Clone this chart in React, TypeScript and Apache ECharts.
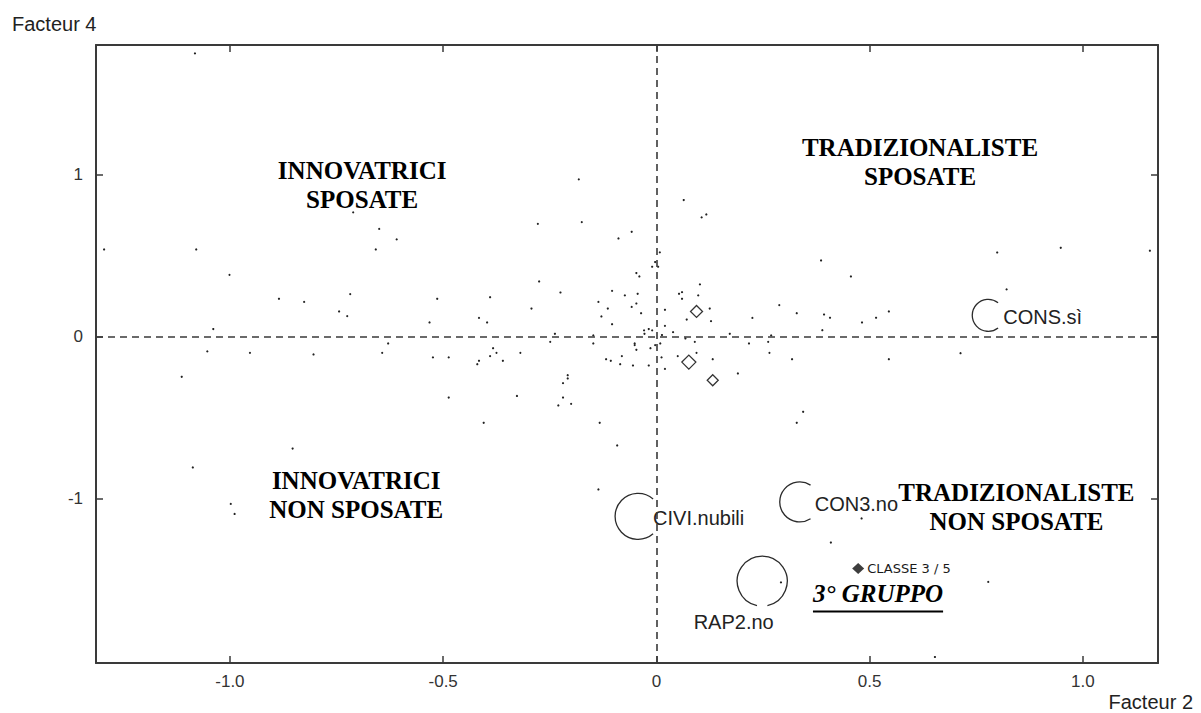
import React, { useEffect, useRef } from "react";
import * as echarts from "echarts";

// Axis scales (Facteur 2 horizontally, Facteur 4 vertically)
const xRange = [-1.314, 1.176];
const yRange = [-2.015, 1.803];
const xTicks = [-1, -0.5, 0, 0.5, 1];
const xTickLabels = ["-1.0", "-0.5", "0", "0.5", "1.0"];
const yTicks = [-1, 0, 1];
const yTickLabels = ["-1", "0", "1"];

// Individuals (small points)
const pointX = [
  -1.082, -0.711, -0.65, -0.609, -1.295, -1.079, -0.658, -1.001, -0.885, -0.826,
  -0.718, -0.744, -0.725, -1.039, -1.053, -0.953, -0.804, -0.629, -0.643, -1.113,
  -0.853, -1.087, -0.998, -0.989, -0.182, 0.064, 0.106, 0.117, -0.278, -0.175,
  -0.089, -0.058, 0.948, 0.799, 1.157, 0.386, 0.456, 0.821, 0.393, 0.407,
  0.482, 0.515, 0.545, 0.389, 0.713, 0.545, 0.344, 0.481, 0.409, 0.778,
  0.653, -0.136, 0.292, 0.008, -0.003, -0.01, 0.004, -0.047, -0.04, -0.275,
  0.102, -0.514, -0.39, -0.225, -0.104, -0.074, -0.044, 0.053, 0.06, 0.06,
  0.098, -0.136, -0.047, -0.058, -0.114, -0.293, 0.02, 0.125, 0.288, 0.329,
  -0.532, -0.416, -0.397, -0.129, -0.104, -0.036, 0.071, 0.128, 0.225, 0.02,
  -0.029, -0.018, -0.01, -0.028, 0.013, 0.039, -0.238, -0.148, 0.172, 0.269,
  0.068, -0.249, -0.148, -0.051, -0.051, -0.003, 0.009, 0.09, 0.217, 0.262,
  -0.383, -0.375, -0.319, -0.047, -0.014, 0.094, 0.265, -0.524, -0.487, -0.39,
  -0.416, -0.42, -0.36, -0.118, -0.107, -0.081, -0.085, -0.055, -0.018, 0.012,
  0.05, 0.132, 0.318, 0.02, 0.191, -0.208, -0.208, -0.219, -0.487, -0.327,
  -0.219, -0.23, -0.2, -0.405, -0.133, 0.329, -0.092,
];
const pointY = [
  1.751, 0.769, 0.667, 0.602, 0.54, 0.54, 0.54, 0.383, 0.235, 0.216,
  0.264, 0.157, 0.128, 0.048, -0.09, -0.099, -0.109, -0.041, -0.099, -0.247,
  -0.69, -0.807, -1.032, -1.094, 0.973, 0.845, 0.738, 0.756, 0.698, 0.709,
  0.608, 0.649, 0.55, 0.521, 0.532, 0.472, 0.373, 0.293, 0.138, 0.118,
  0.089, 0.118, 0.157, 0.041, -0.101, -0.138, -0.463, -1.122, -1.271, -1.514,
  -1.978, -0.943, -1.517, 0.522, 0.462, 0.433, 0.433, 0.394, 0.373, 0.342,
  0.324, 0.235, 0.245, 0.274, 0.284, 0.256, 0.266, 0.266, 0.276, 0.235,
  0.256, 0.216, 0.206, 0.185, 0.175, 0.175, 0.167, 0.175, 0.196, 0.146,
  0.089, 0.117, 0.089, 0.126, 0.078, 0.146, 0.107, 0.097, 0.117, 0.068,
  0.04, 0.048, 0.04, 0.019, 0.011, 0.029, 0.019, 0.009, 0.019, 0.009,
  -0.01, -0.031, -0.041, -0.041, -0.051, -0.051, -0.041, -0.031, -0.041, -0.031,
  -0.07, -0.099, -0.099, -0.08, -0.07, -0.099, -0.099, -0.127, -0.127, -0.119,
  -0.148, -0.169, -0.148, -0.138, -0.148, -0.119, -0.169, -0.177, -0.177, -0.127,
  -0.119, -0.138, -0.138, -0.198, -0.226, -0.237, -0.257, -0.286, -0.375, -0.365,
  -0.375, -0.424, -0.414, -0.531, -0.531, -0.531, -0.671,
];

// Active modalities (open circles)
const modalityNames = ["CONS.sì", "CIVI.nubili", "CON3.no", "RAP2.no"];
const modalityX = [0.778, -0.043, 0.336, 0.248];
const modalityY = [0.133, -1.109, -1.02, -1.509];

// Supplementary points (open diamonds)
const supplementaryX = [0.094, 0.076, 0.132];
const supplementaryY = [0.157, -0.156, -0.268];

// Class centroid
const className = "CLASSE 3 / 5";
const classX = 0.473;
const classY = -1.431;

// Quadrant captions and group title
const quadrantNames = [
  "INNOVATRICI\nSPOSATE",
  "TRADIZIONALISTE\nSPOSATE",
  "INNOVATRICI\nNON SPOSATE",
  "TRADIZIONALISTE\nNON SPOSATE",
];
const quadrantX = [-0.69, 0.618, -0.704, 0.844];
const quadrantY = [0.941, 1.08, -0.977, -1.053];
const groupTitle = "3° GRUPPO";
const groupX = 0.367;
const groupY = -1.586;

const AXIS_COLOR = "#3a3a3a";
const SANS = "Liberation Sans, Arial, sans-serif";
const SERIF = "Liberation Serif, Times New Roman, serif";

function tickText(ticks: number[], labels: string[]) {
  return (v: number) => {
    const i = ticks.findIndex((t) => Math.abs(t - v) < 1e-9);
    return i >= 0 ? labels[i] : "";
  };
}

// Circle radius (px) and the opened part of the ring where the label sits
const circleRadii = [16, 23, 20, 25];
const gapHalfAngles = [0.91, 0.86, 1.0, 0.21];

export default function App() {
  const ref = useRef<HTMLDivElement>(null);

  useEffect(() => {
    if (!ref.current) return;
    document.body.style.margin = "0";
    const chart = echarts.init(ref.current, null, { renderer: "svg" });

    const frameAxisX = (position: "bottom" | "top", labels: boolean) => ({
      type: "value",
      position,
      min: xRange[0],
      max: xRange[1],
      axisLine: { show: true, onZero: false, lineStyle: { color: AXIS_COLOR, width: 2 } },
      axisTick: { show: true, inside: true, length: 7, customValues: xTicks, lineStyle: { color: AXIS_COLOR, width: 1.5 } },
      axisLabel: {
        show: labels,
        customValues: xTicks,
        formatter: tickText(xTicks, xTickLabels),
        margin: 10,
        fontSize: 17,
        fontFamily: SANS,
        color: "#333",
      },
      splitLine: { show: false },
    });
    const frameAxisY = (position: "left" | "right", labels: boolean) => ({
      type: "value",
      position,
      min: yRange[0],
      max: yRange[1],
      axisLine: { show: true, onZero: false, lineStyle: { color: AXIS_COLOR, width: 2 } },
      axisTick: { show: true, inside: true, length: 7, customValues: yTicks, lineStyle: { color: AXIS_COLOR, width: 1.5 } },
      axisLabel: {
        show: labels,
        customValues: yTicks,
        formatter: tickText(yTicks, yTickLabels),
        margin: 13,
        fontSize: 17,
        fontFamily: SANS,
        color: "#333",
      },
      splitLine: { show: false },
    });

    // Open circle with its name: ring broken where the label starts
    const renderModality = (params: any, api: any) => {
      const i = params.dataIndex;
      const c = api.coord([api.value(0), api.value(1)]);
      const r = circleRadii[i];
      const below = modalityNames[i] === "RAP2.no";
      const mid = below ? Math.PI / 2 : 0;
      const half = gapHalfAngles[i];
      return {
        type: "group",
        children: [
          {
            type: "arc",
            z2: 1,
            shape: {
              cx: c[0],
              cy: c[1],
              r,
              startAngle: mid + half,
              endAngle: mid - half + Math.PI * 2,
              clockwise: true,
            },
            style: { stroke: "#2b2b2b", lineWidth: 1.3, fill: "none" },
          },
          {
            type: "text",
            z2: 2,
            style: {
              text: modalityNames[i],
              x: below ? c[0] - 28.5 : c[0] + 14,
              y: below ? c[1] + r + 15.5 : c[1] + 2,
              align: below ? "center" : "left",
              verticalAlign: "middle",
              font: `20px ${SANS}`,
              fill: "#222",
              backgroundColor: "#fff",
              padding: [3, 1, 3, 1],
            },
          },
        ],
      };
    };

    const underlineGraphic = (x: number, y: number, w: number) => ({
      type: "line",
      shape: { x1: x, y1: y, x2: x + w, y2: y },
      style: { stroke: "#000", lineWidth: 2 },
      z: 10,
    });
    const axisTitles = [
      {
        type: "text",
        left: 12,
        top: 14,
        style: { text: "Facteur 4", font: `20px ${SANS}`, fill: "#222" },
      },
      {
        type: "text",
        right: 8,
        top: 692,
        style: { text: "Facteur 2", font: `20px ${SANS}`, fill: "#222" },
      },
    ];

    chart.setOption({
      animation: false,
      backgroundColor: "#fff",
      grid: { left: 96, top: 45, width: 1062, height: 618, containLabel: false },
      xAxis: [frameAxisX("bottom", true), frameAxisX("top", false)],
      yAxis: [frameAxisY("left", true), frameAxisY("right", false)],
      tooltip: { show: false },
      series: [
        {
          type: "scatter",
          name: "individus",
          z: 2,
          symbol: "circle",
          symbolSize: 2.2,
          itemStyle: { color: "#222", opacity: 1 },
          silent: true,
          data: pointX.map((x, i) => [x, pointY[i]]),
          markLine: {
            silent: true,
            symbol: ["none", "none"],
            label: { show: false },
            lineStyle: { type: [7, 5], color: AXIS_COLOR, width: 1.6 },
            data: [{ xAxis: 0 }, { yAxis: 0 }],
          },
        },
        {
          type: "scatter",
          name: "supplementaires",
          z: 3,
          symbol: "diamond",
          silent: true,
          itemStyle: { color: "#fff", borderColor: "#333", borderWidth: 1.3, opacity: 1 },
          data: supplementaryX.map((x, i) => ({
            value: [x, supplementaryY[i]],
            symbolSize: [12, 14, 11][i],
          })),
        },
        {
          type: "custom",
          name: "modalites",
          z: 4,
          silent: true,
          renderItem: renderModality,
          encode: { x: 0, y: 1 },
          data: modalityNames.map((_, i) => [modalityX[i], modalityY[i]]),
        },
        {
          type: "scatter",
          name: "classe",
          z: 6,
          symbol: "diamond",
          symbolSize: [12, 11],
          silent: true,
          itemStyle: { color: "#3d3d3d", opacity: 1 },
          label: {
            show: true,
            position: "right",
            distance: 3,
            formatter: "{b}",
            fontSize: 13,
            fontFamily: "DejaVu Sans, sans-serif",
            color: "#1a1a1a",
          },
          data: [{ name: className, value: [classX, classY] }],
        },
        {
          type: "scatter",
          name: "legendes",
          z: 7,
          symbolSize: 1,
          silent: true,
          itemStyle: { color: "rgba(255,255,255,0)", opacity: 1 },
          label: {
            show: true,
            position: "inside",
            formatter: "{b}",
            fontFamily: SERIF,
            fontWeight: "bold",
            fontSize: 25,
            lineHeight: 29,
            color: "#000",
            opacity: 1,
            textBorderWidth: 0,
            align: "center",
            verticalAlign: "middle",
          },
          data: [
            ...quadrantNames.map((name, i) => ({ name, value: [quadrantX[i], quadrantY[i]] })),
            {
              name: groupTitle,
              value: [groupX, groupY],
              label: { align: "left", fontStyle: "italic" },
            },
          ],
        },
      ],
      graphic: axisTitles,
    });

    // Underline of the group title, sized to the rendered text
    const anchor = chart.convertToPixel({ gridIndex: 0 }, [groupX, groupY]) as number[];
    const ctx = document.createElement("canvas").getContext("2d");
    let width = 133;
    if (ctx) {
      ctx.font = `italic bold 25px ${SERIF}`;
      width = ctx.measureText(groupTitle).width;
    }
    chart.setOption({ graphic: [...axisTitles, underlineGraphic(anchor[0], anchor[1] + 18, width)] });

    return () => chart.dispose();
  }, []);

  return <div ref={ref} style={{ width: 1201, height: 713, background: "#fff" }} />;
}
